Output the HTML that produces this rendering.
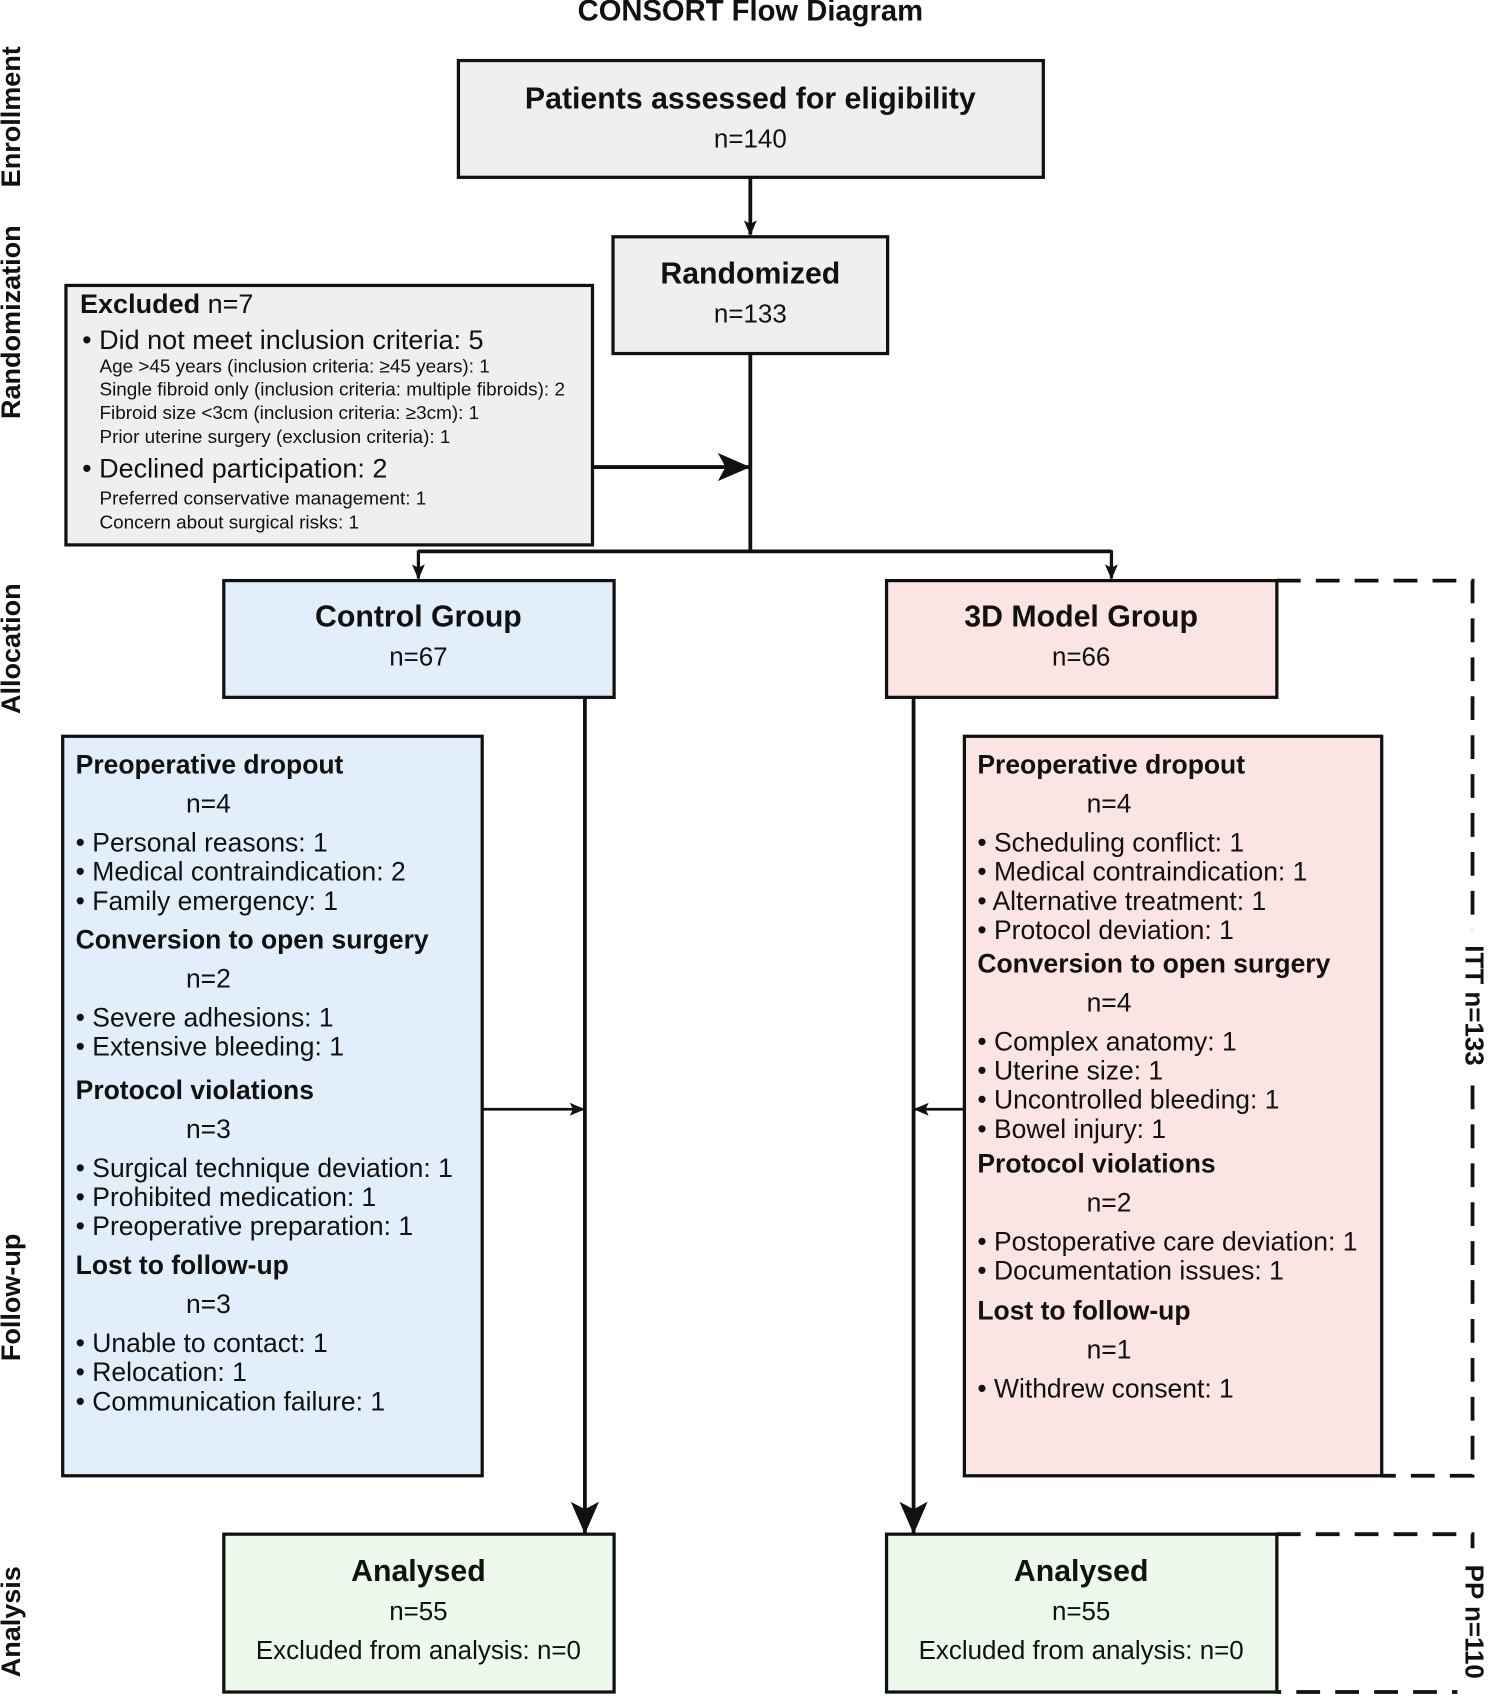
<!DOCTYPE html>
<html><head><meta charset="utf-8"><style>
html,body{margin:0;padding:0;background:#fff}
svg{display:block}
text{font-family:"Liberation Sans",Arial,sans-serif;fill:#111;dominant-baseline:middle}
.b{font-weight:bold}
</style></head><body>
<svg width="1492" height="1701" viewBox="0 0 1380 1573.3" xmlns="http://www.w3.org/2000/svg">
<defs>
<marker id="ah" markerWidth="14" markerHeight="14" refX="13" refY="7" orient="auto" markerUnits="userSpaceOnUse" viewBox="0 0 14 14"><path d="M0,1 L14,7 L0,13 L3,7 z" fill="#111"/></marker>
<marker id="big" markerWidth="30" markerHeight="26" refX="29" refY="13" orient="auto" markerUnits="userSpaceOnUse" viewBox="0 0 30 26"><path d="M0,0 L30,13 L0,26 L7,13 z" fill="#111"/></marker>
</defs>
<text x="694" y="12" text-anchor="middle" class="b" font-size="27">CONSORT Flow Diagram</text>
<g class="b" font-size="25">
<text transform="translate(12,108) rotate(-90)" text-anchor="middle" class="b">Enrollment</text>
<text transform="translate(12,298) rotate(-90)" text-anchor="middle" class="b">Randomization</text>
<text transform="translate(12,600) rotate(-90)" text-anchor="middle" class="b">Allocation</text>
<text transform="translate(12,1200) rotate(-90)" text-anchor="middle" class="b">Follow-up</text>
<text transform="translate(12,1500) rotate(-90)" text-anchor="middle" class="b">Analysis</text>
</g>
<g stroke="#111" stroke-width="3">
<rect x="424" y="56" width="541" height="108" fill="#efefef"/>
<rect x="567" y="219" width="254" height="108" fill="#efefef"/>
<rect x="61" y="264" width="487" height="240" fill="#efefef"/>
<rect x="207" y="537" width="361" height="108" fill="#e3eefb"/>
<rect x="820" y="537" width="361" height="108" fill="#fbe4e4"/>
<rect x="58" y="681" width="388" height="684" fill="#e3eefb"/>
<rect x="892" y="681" width="386" height="684" fill="#fbe4e4"/>
<rect x="207" y="1419" width="361" height="146" fill="#ecf9ec"/>
<rect x="820" y="1419" width="361" height="146" fill="#ecf9ec"/>
</g>
<g stroke="#111" stroke-width="3.5" fill="none">
<line x1="694" y1="164" x2="694" y2="217" marker-end="url(#ah)"/>
<line x1="694" y1="327" x2="694" y2="511"/>
<line x1="548" y1="432" x2="693" y2="432" marker-end="url(#big)"/>
<line x1="387" y1="510" x2="1028" y2="510"/>
<line x1="387" y1="509" x2="387" y2="535" stroke-width="3" marker-end="url(#ah)"/>
<line x1="1028" y1="509" x2="1028" y2="535" stroke-width="3" marker-end="url(#ah)"/>
<line x1="541" y1="645" x2="541" y2="1418" marker-end="url(#big)"/>
<line x1="845" y1="645" x2="845" y2="1418" marker-end="url(#big)"/>
<line x1="446" y1="1026" x2="540" y2="1026" stroke-width="2.5" marker-end="url(#ah)"/>
<line x1="892" y1="1026" x2="846" y2="1026" stroke-width="2.5" marker-end="url(#ah)"/>
<path d="M1181,537 H1362 V1365 H1278" stroke-dasharray="22,14"/>
<path d="M1181,1419 H1362 V1565 H1181" stroke-dasharray="22,14"/>
</g>
<rect x="1348" y="860" width="28" height="140" fill="#fff"/>
<rect x="1348" y="1432" width="28" height="138" fill="#fff"/>
<text transform="translate(1362,930) rotate(90)" text-anchor="middle" class="b" font-size="24">ITT n=133</text>
<text transform="translate(1362,1500) rotate(90)" text-anchor="middle" class="b" font-size="24">PP n=110</text>

<g font-size="24" text-anchor="middle">
<text x="694" y="93" class="b" font-size="28">Patients assessed for eligibility</text>
<text x="694" y="130">n=140</text>
<text x="694" y="255" class="b" font-size="28">Randomized</text>
<text x="694" y="292">n=133</text>
<text x="387" y="572" class="b" font-size="28">Control Group</text>
<text x="387" y="609">n=67</text>
<text x="1000" y="572" class="b" font-size="28">3D Model Group</text>
<text x="1000" y="609">n=66</text>
<text x="387" y="1455" class="b" font-size="28">Analysed</text>
<text x="387" y="1492">n=55</text>
<text x="387" y="1528">Excluded from analysis: n=0</text>
<text x="1000" y="1455" class="b" font-size="28">Analysed</text>
<text x="1000" y="1492">n=55</text>
<text x="1000" y="1528">Excluded from analysis: n=0</text>
</g>

<g font-size="25">
<text x="74" y="283"><tspan class="b">Excluded</tspan>  n=7</text>
<text x="76" y="316">• Did not meet inclusion criteria: 5</text>
<text x="76" y="435">• Declined participation: 2</text>
</g>
<g font-size="17.5">
<text x="92" y="340">Age &gt;45 years (inclusion criteria: ≥45 years): 1</text>
<text x="92" y="361">Single fibroid only (inclusion criteria: multiple fibroids): 2</text>
<text x="92" y="383">Fibroid size &lt;3cm (inclusion criteria: ≥3cm): 1</text>
<text x="92" y="405">Prior uterine surgery (exclusion criteria): 1</text>
<text x="92" y="462">Preferred conservative management: 1</text>
<text x="92" y="484">Concern about surgical risks: 1</text>
</g>

<g font-size="24.5">
<text x="70" y="709" class="b">Preoperative dropout</text>
<text x="172" y="745">n=4</text>
<text x="70" y="781">• Personal reasons: 1</text>
<text x="70" y="808">• Medical contraindication: 2</text>
<text x="70" y="835">• Family emergency: 1</text>
<text x="70" y="871" class="b">Conversion to open surgery</text>
<text x="172" y="907">n=2</text>
<text x="70" y="943">• Severe adhesions: 1</text>
<text x="70" y="970">• Extensive bleeding: 1</text>
<text x="70" y="1010" class="b">Protocol violations</text>
<text x="172" y="1046">n=3</text>
<text x="70" y="1082">• Surgical technique deviation: 1</text>
<text x="70" y="1109">• Prohibited medication: 1</text>
<text x="70" y="1136">• Preoperative preparation: 1</text>
<text x="70" y="1172" class="b">Lost to follow-up</text>
<text x="172" y="1208">n=3</text>
<text x="70" y="1244">• Unable to contact: 1</text>
<text x="70" y="1271">• Relocation: 1</text>
<text x="70" y="1298">• Communication failure: 1</text>

<text x="904" y="709" class="b">Preoperative dropout</text>
<text x="1005" y="745">n=4</text>
<text x="904" y="781">• Scheduling conflict: 1</text>
<text x="904" y="808">• Medical contraindication: 1</text>
<text x="904" y="835">• Alternative treatment: 1</text>
<text x="904" y="862">• Protocol deviation: 1</text>
<text x="904" y="893" class="b">Conversion to open surgery</text>
<text x="1005" y="929">n=4</text>
<text x="904" y="965">• Complex anatomy: 1</text>
<text x="904" y="992">• Uterine size: 1</text>
<text x="904" y="1019">• Uncontrolled bleeding: 1</text>
<text x="904" y="1046">• Bowel injury: 1</text>
<text x="904" y="1078" class="b">Protocol violations</text>
<text x="1005" y="1114">n=2</text>
<text x="904" y="1150">• Postoperative care deviation: 1</text>
<text x="904" y="1177">• Documentation issues: 1</text>
<text x="904" y="1214" class="b">Lost to follow-up</text>
<text x="1005" y="1250">n=1</text>
<text x="904" y="1286">• Withdrew consent: 1</text>
</g>
</svg>
</body></html>
